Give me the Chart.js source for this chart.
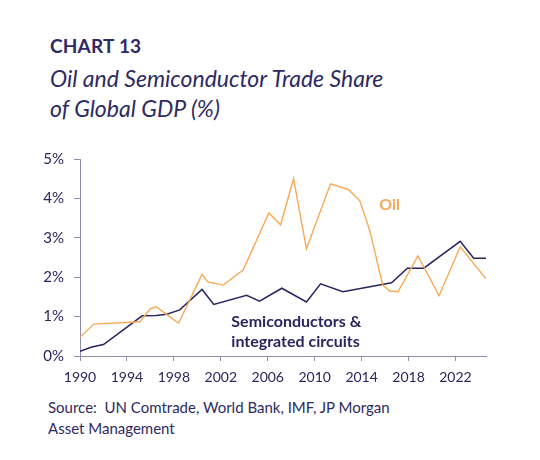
<!DOCTYPE html>
<html>
<head>
<meta charset="utf-8">
<script src="https://cdn.jsdelivr.net/npm/chart.js@4"></script>
<style>
  body { margin: 0; background: #fff; font-family: Lato, sans-serif; color: #2e2a63; }
  #page { position: relative; width: 540px; height: 460px; overflow: hidden; }
  .kicker { position: absolute; left: 50px; top: 37px; font-size: 19px; line-height: 18px; font-weight: 700; letter-spacing: 0.2px; }
  .title { position: absolute; left: 50px; top: 63px; font-size: 23px; line-height: 30px; font-style: italic; }
  .source { position: absolute; left: 48px; top: 397px; font-size: 15px; line-height: 21px; }
  #wrap { position: absolute; left: 0; top: 140px; width: 540px; height: 250px; }
</style>
</head>
<body>
<div id="page">
  <div class="kicker">CHART 13</div>
  <div class="title">Oil and Semiconductor Trade Share<br>of Global GDP (%)</div>
  <div id="wrap"><canvas id="myChart"></canvas></div>
  <div class="source">Source:&nbsp; UN Comtrade, World Bank, IMF, JP Morgan<br>Asset Management</div>
</div>
<script>
// values (share of global GDP, %)
var oilYears = [1990, 1991.2, 1995.1, 1996.0, 1996.5, 1997.4, 1998.4, 2000.4, 2000.9, 2002.2, 2003.9, 2006.1, 2007.1, 2008.2, 2009.3, 2011.35, 2012.9, 2013.85, 2014.7, 2015.8, 2016.4, 2017.1, 2018.8, 2020.6, 2022.4, 2024.6];
var oilShare = [0.48, 0.81, 0.87, 1.20, 1.25, 1.05, 0.83, 2.07, 1.88, 1.80, 2.18, 3.63, 3.33, 4.50, 2.72, 4.37, 4.22, 3.94, 3.18, 1.80, 1.65, 1.63, 2.54, 1.53, 2.77, 1.96];

var semiYears = [1990, 1991, 1992, 1995.3, 1996.5, 1997.4, 1998.5, 2000.4, 2001.4, 2004.2, 2005.3, 2007.2, 2009.3, 2010.5, 2012.4, 2016.55, 2017.9, 2019.3, 2022.4, 2023.55, 2024.6];
var semiShare = [0.12, 0.23, 0.29, 1.02, 1.03, 1.06, 1.17, 1.69, 1.31, 1.54, 1.39, 1.72, 1.37, 1.83, 1.63, 1.86, 2.23, 2.23, 2.91, 2.48, 2.48];

var xTicks = [1990, 1994, 1998, 2002, 2006, 2010, 2014, 2018, 2022];
var yTicks = [0, 1, 2, 3, 4, 5];

var navy = '#2a255f';
var orange = '#f7a955';
var axisGrey = '#8f8cb0';

function toPoints(xs, ys) {
    var pts = [];
    for (var i = 0; i < xs.length; i++) {
        pts.push({x: xs[i], y: ys[i]});
    }
    return pts;
}

// text labels next to the lines, placed in data units
var lineLabels = {
    id: 'lineLabels',
    afterDatasetsDraw: function(chart) {
        var ctx = chart.ctx;
        var x = chart.scales.x, y = chart.scales.y;
        ctx.save();
        ctx.font = 'bold 16px Lato';
        ctx.textAlign = 'left';
        ctx.textBaseline = 'alphabetic';
        ctx.fillStyle = orange;
        ctx.fillText('Oil', x.getPixelForValue(2015.5), y.getPixelForValue(3.71));
        ctx.fillStyle = navy;
        ctx.fillText('Semiconductors &', x.getPixelForValue(2002.9), y.getPixelForValue(0.74));
        ctx.fillText('integrated circuits', x.getPixelForValue(2002.9), y.getPixelForValue(0.22));
        ctx.restore();
    }
};

var ctx = document.getElementById('myChart').getContext('2d');
var chart = new Chart(ctx, {
    type: 'line',
    data: {
        datasets: [
            {
                label: 'Oil',
                data: toPoints(oilYears, oilShare),
                borderColor: orange,
                borderWidth: 1.4,
                pointRadius: 0,
                tension: 0
            },
            {
                label: 'Semiconductors & integrated circuits',
                data: toPoints(semiYears, semiShare),
                borderColor: navy,
                borderWidth: 1.5,
                pointRadius: 0,
                tension: 0
            }
        ]
    },
    options: {
        responsive: true,
        maintainAspectRatio: false,
        animation: false,
        layout: { padding: { top: 14, right: 54, left: 0, bottom: 0 } },
        plugins: {
            legend: { display: false },
            tooltip: { enabled: false }
        },
        scales: {
            x: {
                type: 'linear',
                min: 1990,
                max: 2024.6,
                afterBuildTicks: function(scale) {
                    scale.ticks = xTicks.map(function(v) { return {value: v}; });
                },
                afterFit: function(scale) { scale.height = 34; },
                grid: { drawOnChartArea: false, drawTicks: true, tickLength: 5, color: axisGrey },
                border: { display: true, color: axisGrey, width: 1 },
                ticks: {
                    padding: 8,
                    color: navy,
                    font: { family: 'Lato', size: 14 },
                    maxRotation: 0,
                    callback: function(v) { return String(v); }
                }
            },
            y: {
                min: 0,
                max: 5,
                afterBuildTicks: function(scale) {
                    scale.ticks = yTicks.map(function(v) { return {value: v}; });
                },
                afterFit: function(scale) { scale.width = 80; },
                grid: { drawOnChartArea: false, drawTicks: true, tickLength: 6, color: axisGrey },
                border: { display: true, color: axisGrey, width: 1 },
                ticks: {
                    padding: 10,
                    color: navy,
                    font: { family: 'Lato', size: 15 },
                    callback: function(v) { return v + '%'; }
                }
            }
        }
    },
    plugins: [lineLabels]
});
</script>
</body>
</html>
